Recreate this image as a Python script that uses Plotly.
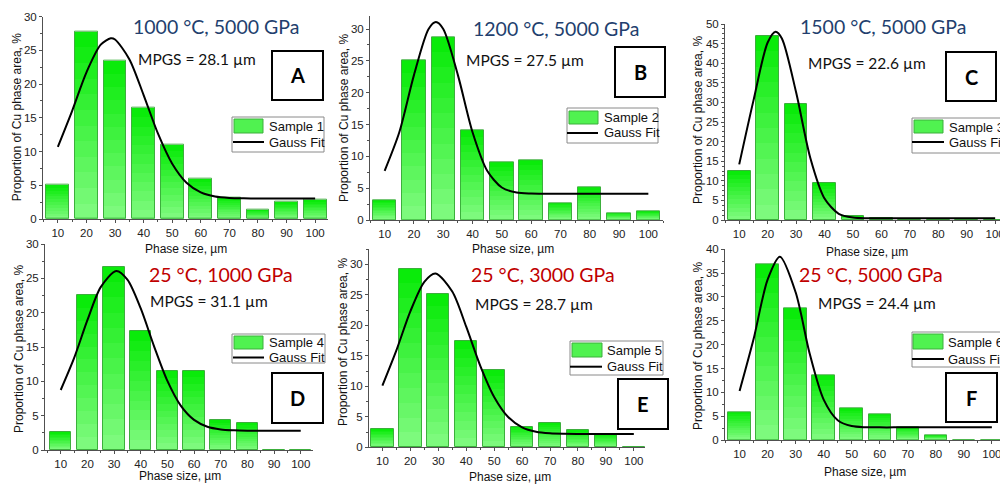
import plotly.graph_objects as go

# ---------------- data ----------------
sizes = [10, 20, 30, 40, 50, 60, 70, 80, 90, 100]

sample1 = [5.1, 27.8, 23.5, 16.5, 11.0, 6.0, 3.2, 1.4, 2.5, 2.8]
sample2 = [3.1, 25.1, 28.7, 14.1, 9.1, 9.4, 2.7, 5.1, 1.1, 1.3]
sample3 = [12.6, 46.9, 29.5, 9.35, 1.0, 0.4, 0, 0, 0, 0]
sample4 = [2.6, 22.6, 26.7, 17.3, 11.5, 11.55, 4.3, 3.9, 0, 0]
sample5 = [3.0, 29.3, 25.2, 17.5, 12.7, 3.4, 4.0, 2.8, 2.2, 0]
sample6 = [5.9, 36.9, 27.6, 13.6, 6.6, 5.45, 2.6, 1.0, 0, 0]

fit1_x = [10, 15, 20, 25, 28.5, 30, 35, 40, 45, 50, 55, 60, 65, 70, 75, 80, 85, 90, 95, 100]
fit1_y = [10.70, 16.04, 21.75, 25.85, 26.80, 26.62, 23.70, 18.38, 12.69, 8.19, 5.37, 3.94, 3.34, 3.13, 3.07, 3.05, 3.05, 3.05, 3.05, 3.05]
fit2_x = [10, 15, 20, 25, 27.5, 30, 35, 40, 45, 50, 55, 60, 65, 70, 75, 80, 85, 90, 95, 100]
fit2_y = [7.73, 13.78, 22.76, 30.01, 31.10, 30.01, 22.76, 13.78, 7.73, 5.10, 4.32, 4.16, 4.13, 4.13, 4.13, 4.13, 4.13, 4.13, 4.13, 4.13]
fit3_x = [10, 15, 20, 22.8, 25, 30, 35, 40, 45, 50, 55, 60, 65, 70, 75, 80, 85, 90, 95, 100]
fit3_y = [14.19, 30.45, 45.28, 48.03, 46.32, 32.57, 15.84, 5.49, 1.57, 0.61, 0.45, 0.43, 0.43, 0.43, 0.43, 0.43, 0.43, 0.43, 0.43, 0.43]
fit4_x = [10, 15, 20, 25, 30.8, 35, 40, 45, 50, 55, 60, 65, 70, 75, 80, 85, 90, 95, 100]
fit4_y = [8.74, 13.37, 18.90, 23.72, 26.07, 24.81, 20.61, 15.10, 10.06, 6.46, 4.38, 3.39, 3.00, 2.87, 2.82, 2.82, 2.82, 2.82, 2.82]
fit5_x = [10, 15, 20, 25, 29, 35, 40, 45, 50, 55, 60, 65, 70, 75, 80, 85, 90, 95, 100]
fit5_y = [10.10, 15.88, 22.28, 27.13, 28.50, 25.53, 19.77, 13.40, 8.25, 4.96, 3.27, 2.55, 2.30, 2.22, 2.20, 2.20, 2.20, 2.20, 2.20]
fit6_x = [10, 15, 20, 24.4, 30, 35, 40, 45, 50, 55, 60, 65, 70, 75, 80, 85, 90, 95, 100]
fit6_y = [10.28, 21.17, 33.64, 38.45, 30.98, 18.13, 8.47, 4.16, 2.92, 2.68, 2.65, 2.65, 2.65, 2.65, 2.65, 2.65, 2.65, 2.65, 2.65]

titles = ["1000 °C, 5000 GPa", "1200 °C, 5000 GPa", "1500 °C, 5000 GPa",
          "25 °C, 1000 GPa", "25 °C, 3000 GPa", "25 °C, 5000 GPa"]
mpgs = ["MPGS = 28.1 µm", "MPGS = 27.5 µm", "MPGS = 22.6 µm",
        "MPGS = 31.1 µm", "MPGS = 28.7 µm", "MPGS = 24.4 µm"]
letters = ["A", "B", "C", "D", "E", "F"]
sample_names = ["Sample 1", "Sample 2", "Sample 3", "Sample 4", "Sample 5", "Sample 6"]
fit_name = "Gauss Fit"
x_title = "Phase size, µm"
y_title = "Proportion of Cu phase area, %"

samples = [sample1, sample2, sample3, sample4, sample5, sample6]
fits = [(fit1_x, fit1_y), (fit2_x, fit2_y), (fit3_x, fit3_y),
        (fit4_x, fit4_y), (fit5_x, fit5_y), (fit6_x, fit6_y)]

# ---------------- layout / style (pixels) ----------------
W, H = 1000, 484
def PX(x): return x / W
def PY(y): return 1 - y / H

BLUE = "#233f6e"
RED = "#c00000"
AX = "#505050"
TICKFONT = dict(family="Liberation Sans, Arial", size=11.5, color="#222")

panels = [
    dict(xd=(43, 328), xr=(4.8, 104.5), yd=(16.7, 219), yr=(0, 30), ymin=2.5, tc=BLUE,
         title=(216, 27), mp=(197, 59), box=(272, 51, 323, 100),
         leg=dict(box=(232, 117, 324, 152), sw=(234, 119, 263, 133), t1=(267, 126), ln=(233, 264, 142)),
         xt=(186, 249), yt=(16.7, 117.5)),
    dict(xd=(370, 663), xr=(5, 105), yd=(16.3, 220), yr=(0, 32), ymin=2.5, tc=BLUE,
         title=(556, 29), mp=(525, 60), box=(615, 47, 665, 97),
         leg=dict(box=(567, 108, 658, 143), sw=(569, 111, 598, 124), t1=(602, 117.5), ln=(567, 598, 133)),
         xt=(512.5, 249), yt=(344, 118)),
    dict(xd=(725, 1000), xr=(5, 101.7), yd=(24, 220), yr=(0, 50), ymin=1.25, tc=BLUE,
         title=(883, 27), mp=(867, 63), box=(946, 52, 996, 101),
         leg=dict(box=(912, 118, 1005, 153), sw=(914, 120, 943, 133), t1=(947, 127), ln=(912, 944, 142)),
         xt=(866.7, 252), yt=(698, 120)),
    dict(xd=(45, 313), xr=(4.1, 104.6), yd=(244, 450), yr=(0, 30), ymin=2.5, tc=RED,
         title=(221, 274), mp=(209, 301), box=(272, 373, 323, 423),
         leg=dict(box=(232, 334, 325, 363), sw=(234, 336, 263, 349), t1=(267, 342.5), ln=(233, 264, 357.5)),
         xt=(180, 476), yt=(19, 349)),
    dict(xd=(369, 645), xr=(5.2, 104), yd=(249, 447.3), yr=(0, 32.5), ymin=2.5, tc=RED,
         title=(543, 274), mp=(534, 304), box=(618, 379, 668, 429),
         leg=dict(box=(570, 341, 663, 375), sw=(572, 343, 602, 357), t1=(605, 350), ln=(570, 602, 366.7)),
         xt=(509.7, 477), yt=(343, 342)),
    dict(xd=(725, 1000), xr=(4.8, 102.9), yd=(249.3, 440), yr=(0, 40), ymin=2.5, tc=RED,
         title=(871, 274), mp=(877, 303), box=(946, 373, 997, 422),
         leg=dict(box=(912, 332, 1005, 367), sw=(913, 334, 943, 349), t1=(946, 342), ln=(912, 944, 359)),
         xt=(865, 472), yt=(698, 346)),
]

# gradient for bars: top bright green -> bottom light green
NB = 12
top_c = (10, 235, 10)
bot_c = (125, 250, 125)
def band_color(k):
    t = k / (NB - 1)
    r = [round(top_c[j] + (bot_c[j] - top_c[j]) * t) for j in range(3)]
    return f"rgb({r[0]},{r[1]},{r[2]})"
OUTLINE = "rgb(60,175,60)"

fig = go.Figure()
shapes = []
annotations = []

for i, (p, vals, (fx, fy)) in enumerate(zip(panels, samples, fits)):
    n = "" if i == 0 else str(i + 1)
    xa, ya = "x" + n, "y" + n
    for k in range(NB):
        frac = (NB - k) / NB
        fig.add_trace(go.Bar(x=sizes, y=[v * frac for v in vals], width=8,
                             marker=dict(color=band_color(k), line=dict(width=0)),
                             xaxis=xa, yaxis=ya, showlegend=False, hoverinfo="skip"))
    fig.add_trace(go.Bar(x=sizes, y=vals, width=8, name=sample_names[i],
                         marker=dict(color="rgba(0,0,0,0)", line=dict(width=1, color=OUTLINE)),
                         xaxis=xa, yaxis=ya, showlegend=False))
    fig.add_trace(go.Scatter(x=fx, y=fy, mode="lines", name=fit_name,
                             line=dict(color="black", width=2, shape="spline", smoothing=0.8),
                             xaxis=xa, yaxis=ya, showlegend=False))

    fig.layout["xaxis" + n] = dict(
        domain=[PX(p["xd"][0]), PX(p["xd"][1])], range=list(p["xr"]), anchor=ya,
        tickmode="linear", tick0=10, dtick=10, ticks="outside", ticklen=3, tickwidth=1,
        tickcolor=AX, showline=True, linecolor=AX, linewidth=1, showgrid=False,
        zeroline=False, tickfont=TICKFONT, automargin=False, fixedrange=True,
        ticklabeloverflow="allow",
        minor=dict(ticks="outside", ticklen=2, tick0=5, dtick=10, tickcolor=AX, showgrid=False))
    fig.layout["yaxis" + n] = dict(
        domain=[PY(p["yd"][1]), PY(p["yd"][0])], range=list(p["yr"]), anchor=xa,
        tickmode="linear", tick0=0, dtick=5, ticks="outside", ticklen=3, tickwidth=1,
        tickcolor=AX, showline=True, linecolor=AX, linewidth=1, showgrid=False,
        zeroline=False, tickfont=TICKFONT, automargin=False, fixedrange=True,
        ticklabeloverflow="allow",
        minor=dict(ticks="outside", ticklen=2, dtick=p["ymin"], tickcolor=AX, showgrid=False))

    annotations.append(dict(x=PX(p["title"][0]), y=PY(p["title"][1]), xref="paper", yref="paper",
                            text=titles[i], showarrow=False, xanchor="center", yanchor="middle",
                            font=dict(family="Lato", size=19.5, color=p["tc"])))
    annotations.append(dict(x=PX(p["mp"][0]), y=PY(p["mp"][1]), xref="paper", yref="paper",
                            text=mpgs[i], showarrow=False, xanchor="center", yanchor="middle",
                            font=dict(family="Lato", size=15.5, color="#111")))
    annotations.append(dict(x=PX(p["xt"][0]), y=PY(p["xt"][1]), xref="paper", yref="paper",
                            text=x_title, showarrow=False, xanchor="center", yanchor="middle",
                            font=dict(family="Liberation Sans, Arial", size=12, color="#111")))
    annotations.append(dict(x=PX(p["yt"][0]), y=PY(p["yt"][1]), xref="paper", yref="paper",
                            text=y_title, showarrow=False, xanchor="center", yanchor="middle",
                            textangle=-90,
                            font=dict(family="Liberation Sans, Arial", size=12, color="#111")))
    bx = p["box"]
    shapes.append(dict(type="rect", xref="paper", yref="paper", layer="above",
                       x0=PX(bx[0]), x1=PX(bx[2]), y0=PY(bx[3]), y1=PY(bx[1]),
                       line=dict(color="black", width=2), fillcolor="white"))
    annotations.append(dict(x=PX((bx[0] + bx[2]) / 2), y=PY((bx[1] + bx[3]) / 2),
                            xref="paper", yref="paper", text="<b>" + letters[i] + "</b>",
                            showarrow=False, xanchor="center", yanchor="middle",
                            font=dict(family="Lato", size=20, color="black")))
    lg = p["leg"]
    b = lg["box"]
    shapes.append(dict(type="rect", xref="paper", yref="paper", layer="above",
                       x0=PX(b[0]), x1=PX(b[2]), y0=PY(b[3]), y1=PY(b[1]),
                       line=dict(color="#8a8a8a", width=1), fillcolor="white"))
    s = lg["sw"]
    shapes.append(dict(type="rect", xref="paper", yref="paper", layer="above",
                       x0=PX(s[0]), x1=PX(s[2]), y0=PY(s[3]), y1=PY(s[1]),
                       line=dict(color=OUTLINE, width=1), fillcolor="rgb(80,242,80)"))
    ln = lg["ln"]
    shapes.append(dict(type="line", xref="paper", yref="paper", layer="above",
                       x0=PX(ln[0]), x1=PX(ln[1]), y0=PY(ln[2]), y1=PY(ln[2]),
                       line=dict(color="black", width=2)))
    annotations.append(dict(x=PX(lg["t1"][0]), y=PY(lg["t1"][1]), xref="paper", yref="paper",
                            text=sample_names[i], showarrow=False, xanchor="left", yanchor="middle",
                            font=dict(family="Liberation Sans, Arial", size=13, color="#111")))
    annotations.append(dict(x=PX(lg["t1"][0]), y=PY(ln[2]), xref="paper", yref="paper",
                            text=fit_name, showarrow=False, xanchor="left", yanchor="middle",
                            font=dict(family="Liberation Sans, Arial", size=13, color="#111")))

fig.update_layout(width=W, height=H, margin=dict(l=0, r=0, t=0, b=0),
                  paper_bgcolor="white", plot_bgcolor="white",
                  barmode="overlay", bargap=0, showlegend=False,
                  shapes=shapes, annotations=annotations)

fig.write_html("out.html")
